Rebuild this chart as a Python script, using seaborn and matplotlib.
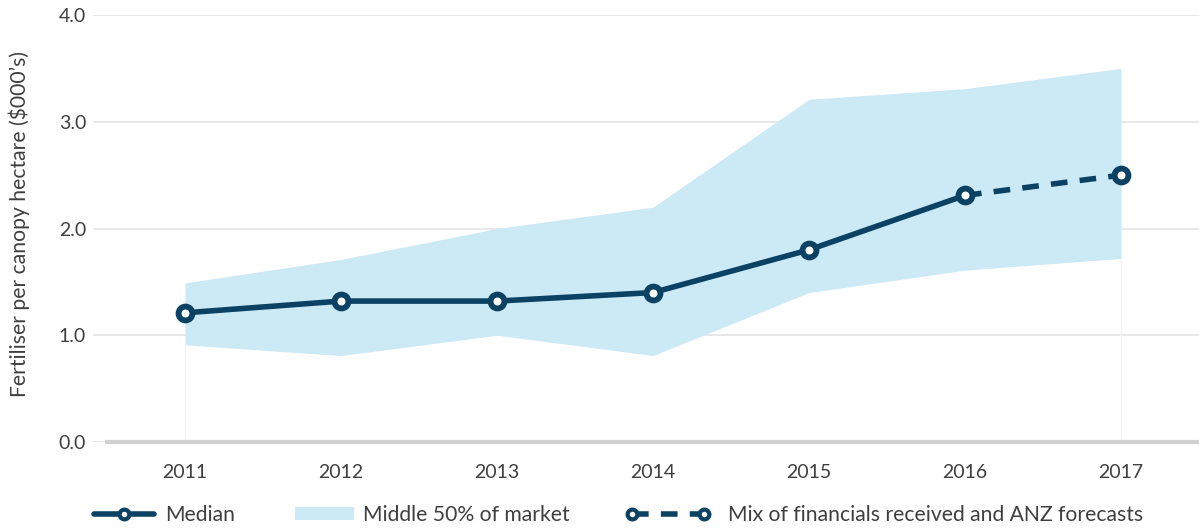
import numpy as np
import pandas as pd
import seaborn as sns
import matplotlib.pyplot as plt
from matplotlib.lines import Line2D
from matplotlib.patches import Patch
from matplotlib.legend_handler import HandlerLine2D

# values
years = ['2011', '2012', '2013', '2014', '2015', '2016', '2017']
median = [1.21, 1.32, 1.32, 1.40, 1.80, 2.31, 2.50]
band_low = [0.91, 0.81, 1.00, 0.81, 1.40, 1.61, 1.72]
band_high = [1.49, 1.71, 2.00, 2.20, 3.21, 3.31, 3.50]
y_ticks = [0.0, 1.0, 2.0, 3.0, 4.0]
n_actual = 6  # 2011-2016 received, 2016-2017 forecast mix

navy = '#0b4263'
fill = '#cce9f6'
txt = '#3f3f3f'

sns.set_theme(style='white')
plt.rcParams['font.family'] = ['Lato', 'DejaVu Sans']

df = pd.DataFrame({'pos': np.arange(len(years)), 'median': median,
                   'low': band_low, 'high': band_high})

fig = plt.figure(figsize=(11.99, 5.32), dpi=100)
ax = fig.add_axes([93 / 1199, 90 / 532, 1 - 93 / 1199, (442 - 15) / 532])

for y in y_ticks:
    ax.axhline(y, color='#e6e6e6', lw=1.3, zorder=0)

ax.fill_between(df['pos'], df['low'], df['high'], color=fill, lw=0, zorder=1)
# faint edges of the band down to the axis
ax.vlines([df['pos'].iloc[0], df['pos'].iloc[-1]], 0,
          [df['low'].iloc[0], df['low'].iloc[-1]], color='#eef3f7', lw=1, zorder=1)

actual = df.iloc[:n_actual]
forecast = df.iloc[n_actual - 1:]
sns.lineplot(data=forecast, x='pos', y='median', ax=ax, color=navy, lw=4,
             linestyle=(0, (3, 2.2)), zorder=3)
sns.lineplot(data=actual, x='pos', y='median', ax=ax, color=navy, lw=4, zorder=4)
ax.plot(df['pos'], df['median'], ls='none', marker='o', ms=10, mew=4.2,
        mfc='white', mec=navy, zorder=5)

ax.set_xlim(-0.5 - 14 / 156.3, 6.5)
ax.set_ylim(0, 4.0)
ax.set_xticks(df['pos'])
ax.set_xticklabels(years)
ax.set_xticks(np.arange(-0.5, len(years) - 0.4, 1), minor=True)
ax.set_yticks(y_ticks)
ax.set_yticklabels([f'{v:.1f}' for v in y_ticks])
ax.tick_params(axis='x', which='major', length=0, pad=16, labelsize=14, labelcolor=txt)
ax.tick_params(axis='x', which='minor', length=6, width=2, color='#d0d0d0', direction='out')
ax.tick_params(axis='y', length=0, pad=5, labelsize=14, labelcolor=txt)
ax.set_xlabel('')
ax.set_ylabel('Fertiliser per canopy hectare ($000’s)', fontsize=15.2, color=txt)
ax.yaxis.set_label_coords((30 - 93) / 1106, (442 - 224) / 427)

for s in ['top', 'right', 'left']:
    ax.spines[s].set_visible(False)
ax.spines['bottom'].set_color('#d0d0d0')
ax.spines['bottom'].set_linewidth(3)
ax.spines['bottom'].set_bounds(-0.5, 6.5)

# legends
fs = 15.2
ly = 1 - 515 / 532
h1 = Line2D([], [], color=navy, lw=4, marker='o', ms=7, mew=3, mfc='white', mec=navy)
leg1 = fig.legend([h1], ['Median'], loc='center left', bbox_to_anchor=(94 / 1199, ly),
                  frameon=False, fontsize=fs, handlelength=2.84, handletextpad=0.52,
                  borderpad=0, borderaxespad=0,
                  handler_map={h1: HandlerLine2D(numpoints=1)}, labelcolor=txt)
h2 = Patch(color=fill, lw=0)
leg2 = fig.legend([h2], ['Middle 50% of market'], loc='center left',
                  bbox_to_anchor=(295 / 1199, ly), frameon=False, fontsize=fs,
                  handlelength=2.8, handleheight=0.57, handletextpad=0.43,
                  borderpad=0, borderaxespad=0, labelcolor=txt)
h3 = Line2D([], [], color=navy, lw=4, linestyle=(0, (3, 2.2)), marker='o', ms=7, mew=3,
            mfc='white', mec=navy)
leg3 = fig.legend([h3], ['Mix of financials received and ANZ forecasts'], loc='center left',
                  bbox_to_anchor=(626 / 1199, ly), frameon=False, fontsize=fs,
                  handlelength=3.98, handletextpad=0.86, borderpad=0, borderaxespad=0,
                  handler_map={h3: HandlerLine2D(numpoints=2)}, labelcolor=txt)

fig.savefig('out.png', dpi=100)
